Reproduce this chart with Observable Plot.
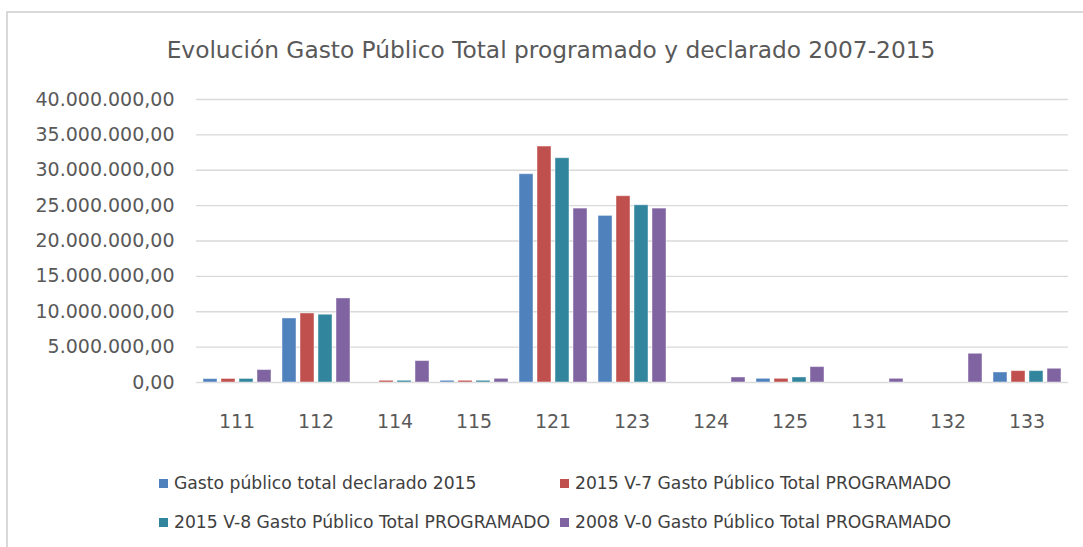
<!DOCTYPE html>
<html>
<head>
<meta charset="utf-8">
<script src="https://cdn.jsdelivr.net/npm/d3@7"></script>
<script src="https://cdn.jsdelivr.net/npm/@observablehq/plot@0.6"></script>
<style>
  html, body { margin: 0; padding: 0; background: #fff; }
  #wrap { position: relative; width: 1083px; height: 547px; overflow: hidden; background: #fff; }
  #frameTop { position: absolute; left: 6px; top: 11px; width: 1077px; height: 2px; background: #d9d9d9; }
  #frameLeft { position: absolute; left: 6px; top: 11px; width: 2px; height: 536px; background: #d9d9d9; }
  #title { position: absolute; left: 0; width: 1102px; top: 36px; text-align: center;
           font-family: "DejaVu Sans", sans-serif; font-size: 23.3px; color: #595959; white-space: nowrap; }
  .layer { position: absolute; left: 0; top: 80px; }
  .leg { position: absolute; font-family: "DejaVu Sans", sans-serif; font-size: 17.2px; color: #404040; white-space: nowrap; line-height: 20px; }
  .sw { position: absolute; width: 9px; height: 9px; }
</style>
</head>
<body>
<div id="wrap">
  <div id="frameTop"></div>
  <div id="frameLeft"></div>
  <div id="title">Evolución Gasto Público Total programado y declarado 2007-2015</div>
  <div id="grid" class="layer"></div>
  <div id="bars" class="layer"></div>
  <div id="legend"></div>
</div>
<script>
// ---- data ----
const categories = ["111", "112", "114", "115", "121", "123", "124", "125", "131", "132", "133"];
const seriesNames = [
  "Gasto público total declarado 2015",
  "2015 V-7 Gasto Público Total PROGRAMADO",
  "2015 V-8 Gasto Público Total PROGRAMADO",
  "2008 V-0 Gasto Público Total PROGRAMADO"
];
const declarado2015 = [480000, 9050000, 0, 240000, 29440000, 23550000, 0, 520000, 0, 0, 1420000];
const programadoV7_2015 = [500000, 9760000, 240000, 240000, 33350000, 26330000, 0, 520000, 0, 0, 1610000];
const programadoV8_2015 = [500000, 9580000, 240000, 240000, 31700000, 25050000, 0, 710000, 0, 0, 1610000];
const programadoV0_2008 = [1760000, 11880000, 3030000, 520000, 24580000, 24580000, 710000, 2180000, 520000, 4060000, 1940000];
const yTicks = [0, 5000000, 10000000, 15000000, 20000000, 25000000, 30000000, 35000000, 40000000];
const colors = ["#4F81BD", "#C0504D", "#31859C", "#8064A2"];

const seriesValues = [declarado2015, programadoV7_2015, programadoV8_2015, programadoV0_2008];
const data = [];
categories.forEach((c, i) => {
  seriesNames.forEach((s, j) => data.push({cat: c, series: s, value: seriesValues[j][i]}));
});

const esLocale = d3.formatLocale({decimal: ",", thousands: ".", grouping: [3], currency: ["", ""]});
const fmt = esLocale.format(",.2f");

const common = {
  width: 1083,
  height: 370,
  marginLeft: 196,
  marginRight: 15,
  marginTop: 19,
  marginBottom: 68,
  style: {fontFamily: "DejaVu Sans, sans-serif", fontSize: "19px", color: "#595959", background: "transparent"}
};

// layer 1: value axis and gridlines
const gridChart = Plot.plot({
  ...common,
  y: {domain: [0, 40000000], ticks: yTicks, tickFormat: fmt, tickSize: 0, tickPadding: 22, label: null},
  marks: [
    Plot.ruleY(yTicks, {stroke: "#d9d9d9", strokeWidth: 1.3})
  ]
});
document.getElementById("grid").appendChild(gridChart);

// layer 2: grouped bars
const barChart = Plot.plot({
  ...common,
  marginLeft: 194,
  fx: {domain: categories, paddingInner: 0.13, paddingOuter: 0.065, label: null, tickSize: 0, tickPadding: 32},
  x: {domain: seriesNames, paddingInner: 0.23, paddingOuter: 0, axis: null},
  y: {domain: [0, 40000000], axis: null},
  color: {domain: seriesNames, range: colors},
  marks: [
    Plot.barY(data, {fx: "cat", x: "series", y: "value", fill: "series", stroke: "#ffffff", strokeOpacity: 0.45, strokeWidth: 1})
  ]
});
document.getElementById("bars").appendChild(barChart);

// ---- legend ----
const legend = document.getElementById("legend");
const legPos = [[159, 473], [560, 473], [159, 512], [560, 512]];
seriesNames.forEach((s, j) => {
  const sw = document.createElement("div");
  sw.className = "sw";
  sw.style.left = legPos[j][0] + "px";
  sw.style.top = (legPos[j][1] + 6) + "px";
  sw.style.background = colors[j];
  legend.appendChild(sw);
  const t = document.createElement("div");
  t.className = "leg";
  t.style.left = (legPos[j][0] + 15) + "px";
  t.style.top = legPos[j][1] + "px";
  t.textContent = s;
  legend.appendChild(t);
});
</script>
</body>
</html>
